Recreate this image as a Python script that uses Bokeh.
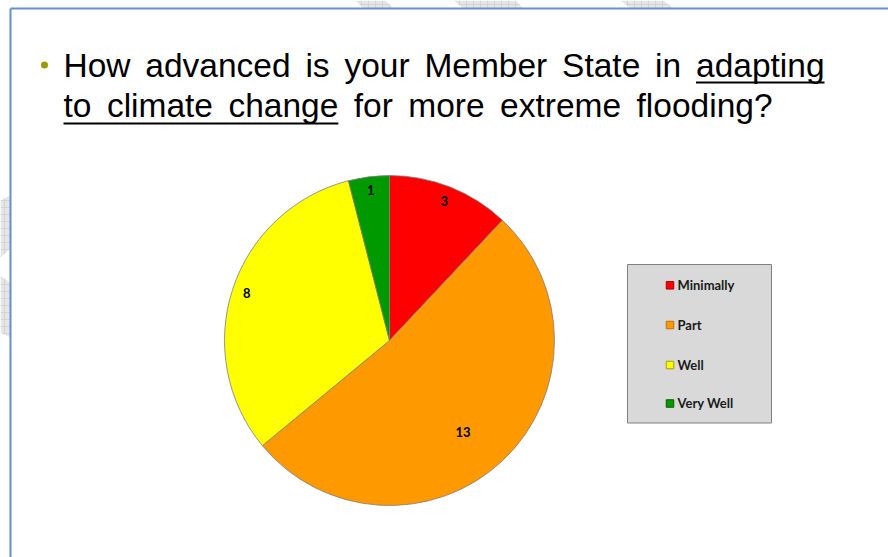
from bokeh.plotting import figure
from bokeh.embed import file_html
from bokeh.resources import INLINE
from bokeh.core.properties import value
import math

# ---- data ----
categories = ["Minimally", "Part", "Well", "Very Well"]
counts = [3, 13, 8, 1]
colors = ["#FF0000", "#FF9900", "#FFFF00", "#009900"]
edge_colors = ["#B00000", "#C07000", "#A0A000", "#006000"]
title_line1_words = ["How", "advanced", "is", "your", "Member", "State", "in", "adapting"]
title_line2_words = ["to", "climate", "change", "for", "more", "extreme", "flooding?"]

W, H = 888, 557


def Y(py):
    return H - py


# Liberation Sans (Arial metrics) advance widths, per 1000 em
ADV = {"H": 722, "o": 556, "w": 722, "a": 556, "d": 556, "v": 500, "n": 556,
       "c": 500, "e": 556, "i": 222, "s": 500, "y": 500, "u": 556, "r": 333,
       "M": 833, "m": 833, "b": 556, "S": 667, "t": 278, "p": 556, "g": 556,
       "l": 222, "h": 556, "f": 278, "x": 500, "?": 556}


def word_w(wd, fs):
    return sum(ADV[ch] for ch in wd) / 1000.0 * fs


def spread(words, x0, x1, fs):
    ws = [word_w(wd, fs) for wd in words]
    gap = (x1 - x0 - sum(ws)) / (len(words) - 1)
    xs, x = [], x0
    for wv in ws:
        xs.append(x)
        x += wv + gap
    return xs, ws


p = figure(width=W, height=H, x_range=(0, W), y_range=(0, H),
           output_backend="svg", toolbar_location=None, min_border=0)
p.axis.visible = False
p.xgrid.visible = False
p.ygrid.visible = False
p.outline_line_color = None
p.background_fill_color = "white"
p.border_fill_color = "white"

# ---- slide decoration (hatched strips + frame) ----
strip_xs = [[355, 385, 393, 363], [453, 515, 523, 463], [620, 663, 673, 630],
            [0, 10, 10, 0], [0, 10, 10, 0]]
strip_ys = [[0, 0, 8, 8], [0, 0, 8, 8], [0, 0, 8, 8],
            [200, 195, 248, 257], [276, 282, 337, 332]]
p.patches(strip_xs, [[Y(v) for v in ys] for ys in strip_ys],
          fill_color="#E6E6E6", line_color=None, hatch_pattern="+",
          hatch_color="#CFCFCF", hatch_scale=7, hatch_weight=0.8)
p.segment(x0=[10, 10], y0=[Y(8), Y(8)], x1=[W, 10], y1=[Y(8), Y(H)],
          line_color="#6790C8", line_width=2)

# ---- title ----
p.scatter(x=[44], y=[Y(64.5)], size=7, marker="circle",
          fill_color="#9A9A00", line_color=None)
fs = 33.5
shift = 12  # renderer baseline correction
l1x, l1w = spread(title_line1_words, 63, 824, fs)
l2x, l2w = spread(title_line2_words, 63, 772, fs)
p.text(x=l1x + l2x,
       y=[Y(76.5 - shift)] * len(l1x) + [Y(116.5 - shift)] * len(l2x),
       text=title_line1_words + title_line2_words,
       text_font=value("Liberation Sans"), text_font_size=f"{fs}px",
       text_color="#000000", text_baseline="alphabetic", text_align="left")
p.segment(x0=[l1x[-1], l2x[0]], y0=[Y(82), Y(123)],
          x1=[l1x[-1] + l1w[-1], l2x[2] + l2w[2]], y1=[Y(82), Y(123)],
          line_color="black", line_width=1.8)

# ---- pie ----
cx, cy, r = 389, Y(340), 165
total = sum(counts)
starts, ends, lx, ly = [], [], [], []
label_frac = [0.9, 0.72, 0.91, 0.91]
label_rot = [0.0, 5.0, 0.0, 0.0]  # degrees clockwise
cum = 0
for i, v in enumerate(counts):
    a0 = math.pi / 2 - 2 * math.pi * (cum + v) / total
    a1 = math.pi / 2 - 2 * math.pi * cum / total
    starts.append(a0)
    ends.append(a1)
    mid = (a0 + a1) / 2 - math.radians(label_rot[i])
    lx.append(cx + label_frac[i] * r * math.cos(mid))
    ly.append(cy + label_frac[i] * r * math.sin(mid) + 1.5)
    cum += v

p.wedge(x=cx, y=cy, radius=r, start_angle=starts, end_angle=ends,
        fill_color=colors, line_color="#7F7F7F", line_width=0.8)
p.text(x=lx, y=ly, text=[str(v) for v in counts],
       text_font=value("Lato"), text_font_style="bold", text_font_size="13px",
       text_color="black", text_align="center", text_baseline="middle")

# ---- legend ----
p.quad(left=[627], right=[771], top=[Y(264)], bottom=[Y(422.5)],
       fill_color="#D9D9D9", line_color="#808080", line_width=1)
row_y = [284.8, 324.5, 364.5, 403]
p.rect(x=[669.5] * 4, y=[Y(v) for v in row_y], width=7.5, height=7.5,
       fill_color=colors, line_color=edge_colors, line_width=1)
p.text(x=[677] * 4, y=[Y(v - 0.5) for v in row_y], text=categories,
       text_font=value("Lato"), text_font_style="bold", text_font_size="13px",
       text_color="#1a1a1a", text_align="left", text_baseline="alphabetic")

open("out.html", "w").write(file_html(p, INLINE))
